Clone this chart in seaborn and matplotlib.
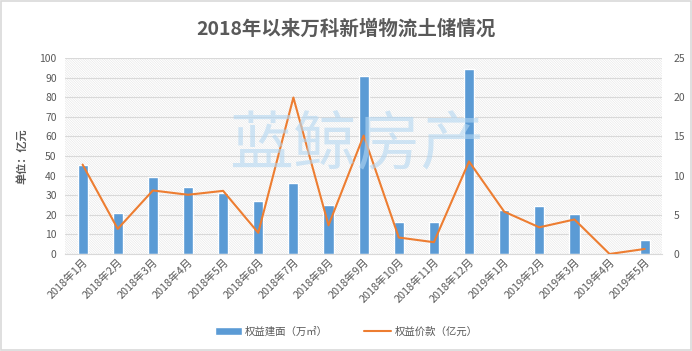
import numpy as np
import pandas as pd
import seaborn as sns
import matplotlib.pyplot as plt
from matplotlib.patches import Rectangle
from matplotlib.lines import Line2D
from matplotlib.patches import Patch

sns.set_style("white")
plt.rcParams["font.family"] = ["Noto Sans CJK SC", "DejaVu Sans"]
plt.rcParams["hatch.color"] = "#dcdcdc"
plt.rcParams["hatch.linewidth"] = 0.3
plt.rcParams["axes.unicode_minus"] = False

# 数据
months = ["2018年1月", "2018年2月", "2018年3月", "2018年4月", "2018年5月", "2018年6月",
          "2018年7月", "2018年8月", "2018年9月", "2018年10月", "2018年11月", "2018年12月",
          "2019年1月", "2019年2月", "2019年3月", "2019年4月", "2019年5月"]
area = [45.5, 21, 39.5, 34, 31, 27, 36, 25, 91, 16.5, 16.5, 94.5, 22.5, 24.5, 20.5, 0, 7.2]
price = [11.4, 3.2, 8.1, 7.55, 8.05, 2.7, 19.95, 3.65, 15.1, 2.1, 1.5, 11.8, 5.4, 3.4, 4.4, 0, 0.64]

df = pd.DataFrame({"月份": months, "权益建面": area, "权益价款": price})
df["pos"] = np.arange(len(df))

bar_c = "#5b9bd5"
line_c = "#ed7d31"
txt_c = "#595959"

fig = plt.figure(figsize=(6.92, 3.51), dpi=100, facecolor="w")
ax = fig.add_axes([0.094, 0.2764, 0.863, 0.5586])

# 斜线底纹背景
ax.add_patch(Rectangle((0, 0), 1, 1, transform=ax.transAxes, facecolor="w",
                       edgecolor="#dcdcdc", hatch="\\" * 14, lw=0, zorder=0))

sns.barplot(data=df, x="月份", y="权益建面", color=bar_c, width=0.29,
            saturation=1, ax=ax, zorder=3)
ax.set_ylim(0, 100)
ax.set_yticks(range(0, 101, 10))
ax.set_xlim(-0.5, len(df) - 0.5)
ax.grid(axis="y", color="#d9d9d9", lw=0.8, zorder=1)
ax.set_axisbelow(False)
for s in ["top", "right", "left"]:
    ax.spines[s].set_visible(False)
ax.spines["bottom"].set_color("#d9d9d9")
ax.spines["bottom"].set_zorder(4)
ax.tick_params(axis="y", length=0, labelsize=7.5, labelcolor=txt_c, pad=6)
ax.tick_params(axis="x", length=0, labelsize=7.8, labelcolor=txt_c, pad=2)
ax.set_xticks(df["pos"])
ax.set_xticklabels(months, rotation=45, ha="right", rotation_mode="anchor")
ax.set_xticks(np.arange(-0.5, len(df), 1), minor=True)
ax.tick_params(axis="x", which="minor", length=4, color="#d9d9d9", width=0.8)
ax.set_xlabel("")
ax.set_ylabel("单位：亿元", fontsize=8, fontweight="bold", color=txt_c, labelpad=8)

ax2 = ax.twinx()
sns.lineplot(data=df, x="pos", y="权益价款", color=line_c, lw=1.5, ax=ax2, zorder=5)
ax2.set_ylim(0, 25)
ax2.set_yticks(range(0, 26, 5))
ax2.set_xlim(-0.5, len(df) - 0.5)
ax2.set_ylabel("")
ax2.set_xlabel("")
for s in ax2.spines.values():
    s.set_visible(False)
ax2.tick_params(axis="y", length=0, labelsize=7.5, labelcolor=txt_c, pad=8)

# 水印
fig.text(0.516, 0.583, "蓝鲸房产", fontsize=46, color="#b3d7f2", alpha=0.6,
         fontweight="light", ha="center", va="center", zorder=10)

fig.text(0.5, 0.918, "2018年以来万科新增物流土储情况", fontsize=14,
         fontweight="bold", color=txt_c, ha="center", va="center")

handles = [Patch(facecolor=bar_c, label="权益建面（万㎡）"),
           Line2D([0], [0], color=line_c, lw=1.5, label="权益价款（亿元）")]
fig.legend(handles=handles, loc="center", bbox_to_anchor=(0.5, 0.055), ncol=2,
           frameon=False, fontsize=7.5, labelcolor=txt_c, handlelength=2.6,
           handleheight=0.8, columnspacing=3.5, handletextpad=0.3)

fig.add_artist(Rectangle((0.002, 0.003), 0.996, 0.994, transform=fig.transFigure,
                         fill=False, edgecolor="#d9d9d9", lw=1.2))

fig.savefig("out.png", dpi=100)
